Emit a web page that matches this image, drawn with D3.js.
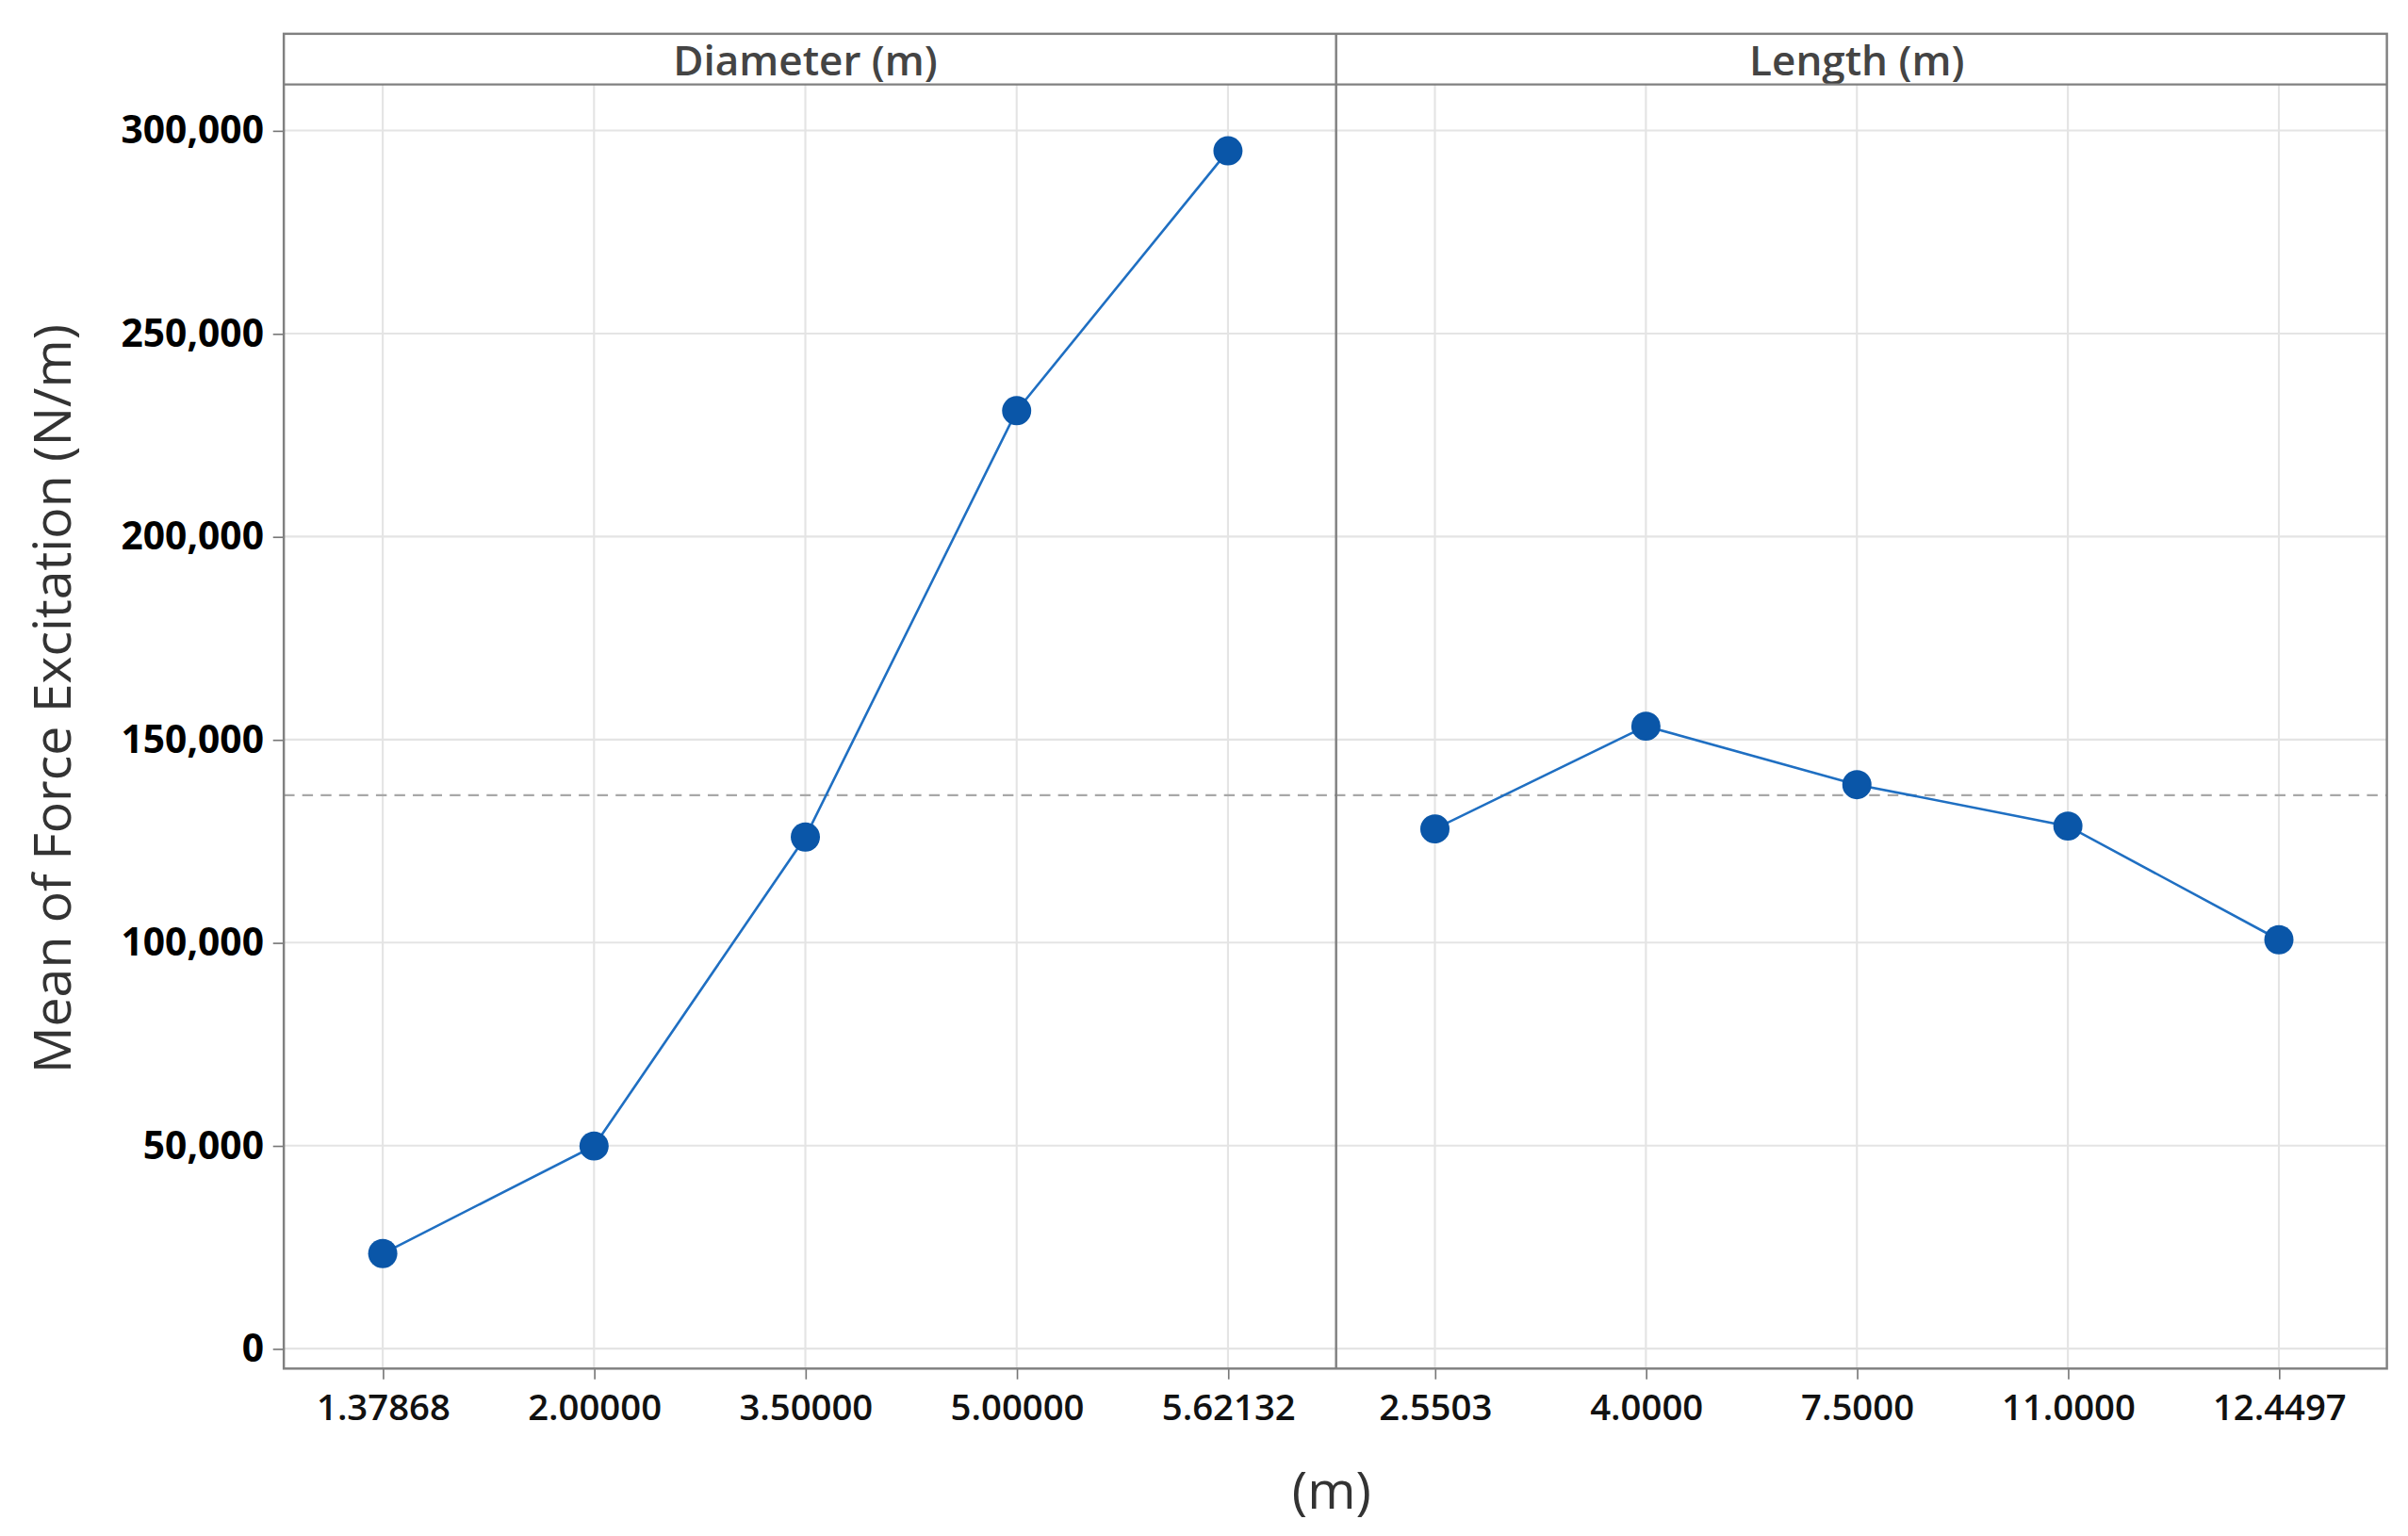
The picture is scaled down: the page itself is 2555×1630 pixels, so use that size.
<!DOCTYPE html><html><head><meta charset="utf-8">
<script src="https://cdn.jsdelivr.net/npm/d3@7"></script>
<style>html,body{margin:0;background:#fff}svg{display:block}</style></head><body>
<script>
const panels = ["Diameter (m)", "Length (m)"];
const diameterLevels = ["1.37868","2.00000","3.50000","5.00000","5.62132"];
const diameterMeans = [23400, 49900, 126000, 231000, 295000];
const lengthLevels = ["2.5503","4.0000","7.5000","11.0000","12.4497"];
const lengthMeans = [128000, 153300, 138900, 128700, 100700];
const grandMean = 136300;
const yTicks = [0,50000,100000,150000,200000,250000,300000];

const W=1566,H=1000;
const svg=d3.select("body").append("svg").attr("width",2555).attr("height",1630).attr("viewBox",`0 0 ${W} ${H}`);
const L=184,R=1553,T=22,HB=55,B=891,MID=869;
const y=d3.scaleLinear().domain([0,300000]).range([878,85]);
const font="'Open Sans', 'Noto Sans', sans-serif";
const data=[{name:panels[0],levels:diameterLevels,vals:diameterMeans,x0:L-3,x1:MID-3},
            {name:panels[1],levels:lengthLevels,vals:lengthMeans,x0:MID-3,x1:R-3}];
data.forEach(p=>{
  const x=d3.scalePoint().domain(p.levels).range([p.x0,p.x1]).padding(0.49);
  p.x=x;
  svg.append("g").selectAll("line").data(yTicks).join("line")
    .attr("x1",Math.max(p.x0,L)).attr("x2",p.x1+3).attr("y1",d=>y(d)).attr("y2",d=>y(d)).attr("stroke","#e4e4e4").attr("stroke-width",1.3);
  svg.append("g").selectAll("line").data(p.levels).join("line")
    .attr("x1",d=>x(d)).attr("x2",d=>x(d)).attr("y1",HB).attr("y2",B).attr("stroke","#e4e4e4").attr("stroke-width",1.3);
});
svg.append("line").attr("x1",L).attr("x2",R).attr("y1",y(grandMean)).attr("y2",y(grandMean))
  .attr("stroke","#a8a8a8").attr("stroke-width",1.5).attr("stroke-dasharray","7,5");
data.forEach(p=>{
  svg.append("path").datum(p.vals).attr("fill","none").attr("stroke","#1f6fc2").attr("stroke-width",1.6)
    .attr("d",d3.line().x((d,i)=>p.x(p.levels[i])).y(d=>y(d)));
  svg.append("g").selectAll("circle").data(p.vals).join("circle")
    .attr("cx",(d,i)=>p.x(p.levels[i])).attr("cy",d=>y(d)).attr("r",9.5).attr("fill","#0a56a8");
  const g=svg.append("g").attr("transform",`translate(0,${B})`)
    .call(d3.axisBottom(p.x).tickSize(7).tickPadding(10));
  g.select(".domain").remove();
  g.selectAll("line").attr("stroke","#777");
  g.selectAll("text").attr("font-family",font).attr("font-weight",600).attr("font-size",23.5).attr("fill","#111");
  svg.append("text").attr("x",(p.x0+p.x1)/2).attr("y",49).attr("text-anchor","middle")
    .attr("font-family",font).attr("font-weight",600).attr("font-size",27).attr("fill","#444").text(p.name);
});
const gy=svg.append("g").attr("transform",`translate(${L},0)`)
  .call(d3.axisLeft(y).tickValues(yTicks).tickFormat(d3.format(",")).tickSize(7).tickPadding(6));
gy.select(".domain").remove();
gy.selectAll("line").attr("stroke","#777");
gy.selectAll("text").attr("font-family",font).attr("font-weight",700).attr("font-size",25).attr("fill","#000");
svg.append("rect").attr("x",L).attr("y",T).attr("width",R-L).attr("height",B-T).attr("fill","none").attr("stroke","#808080").attr("stroke-width",1.5);
svg.append("line").attr("x1",L).attr("x2",R).attr("y1",HB).attr("y2",HB).attr("stroke","#808080").attr("stroke-width",1.5);
svg.append("line").attr("x1",MID).attr("x2",MID).attr("y1",T).attr("y2",B).attr("stroke","#808080").attr("stroke-width",1.5);
svg.append("text").attr("x",866).attr("y",982).attr("text-anchor","middle").attr("font-family",font)
  .attr("font-size",34).attr("fill","#333").text("(m)");
svg.append("text").attr("transform","translate(45,455) rotate(-90)").attr("text-anchor","middle").attr("font-family",font)
  .attr("font-size",34).attr("fill","#333").text("Mean of Force Excitation (N/m)");
</script></body></html>
